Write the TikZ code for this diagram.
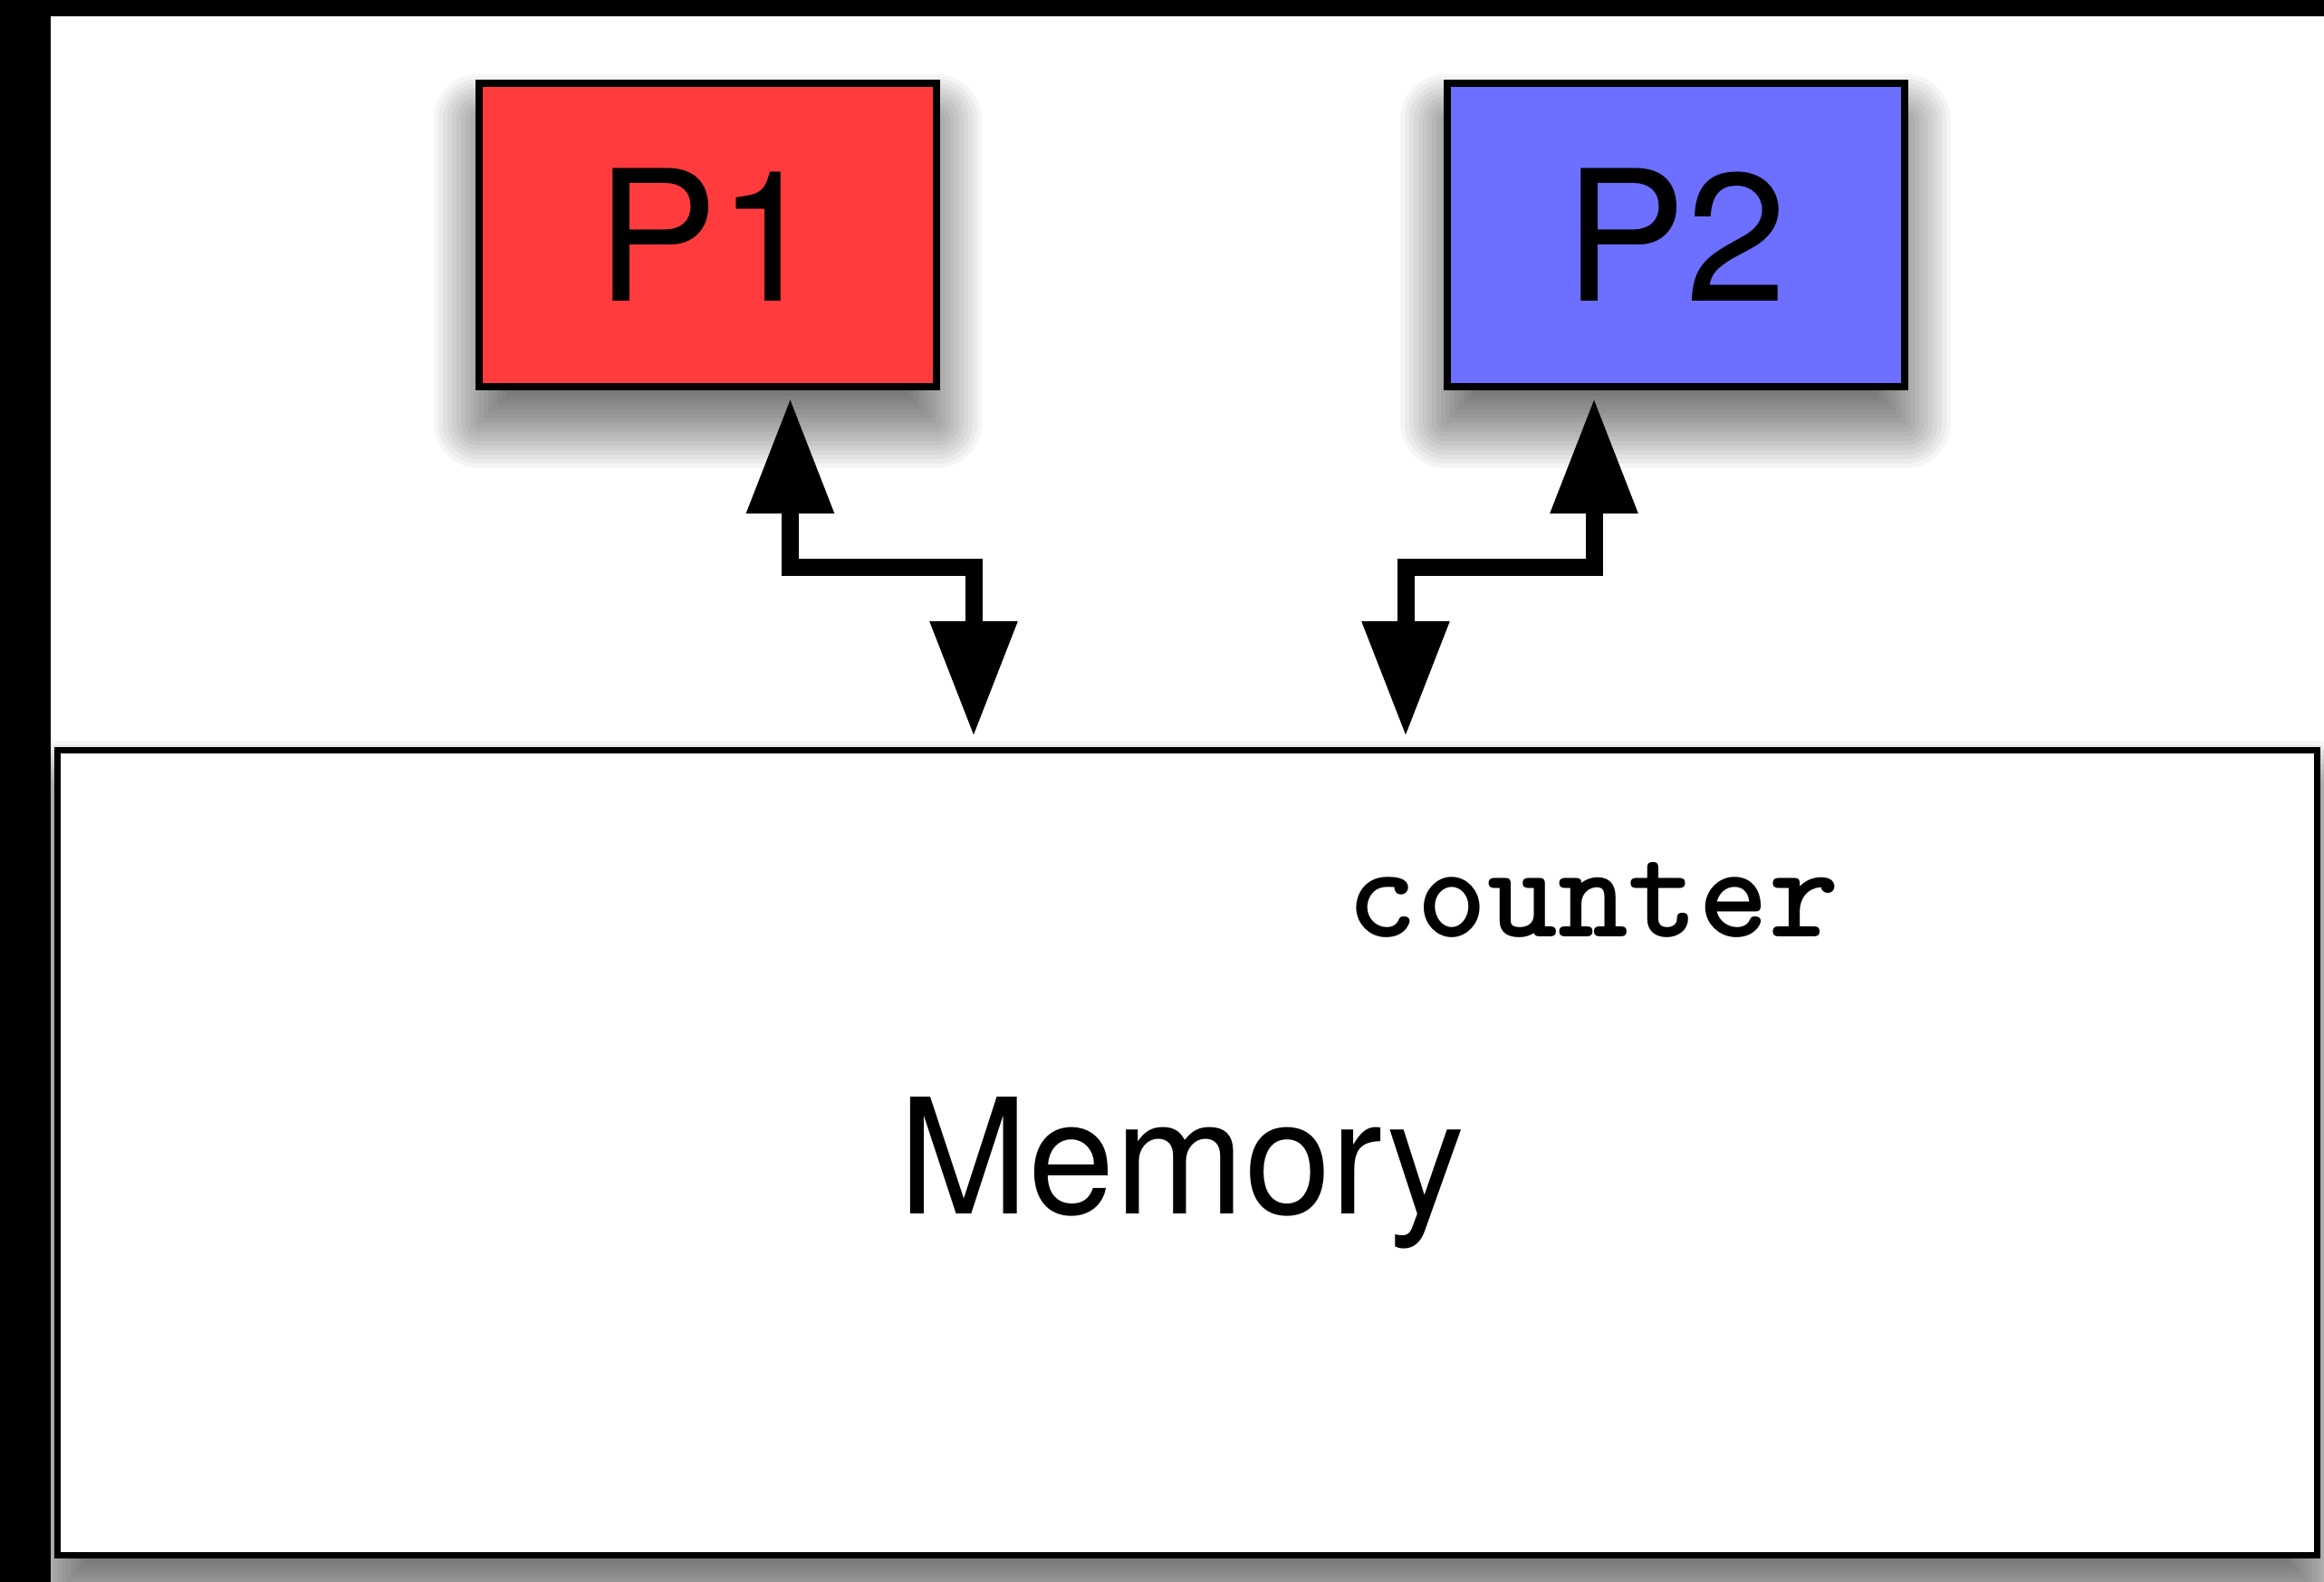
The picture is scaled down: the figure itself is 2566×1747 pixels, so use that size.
\documentclass[tikz,border=0pt]{standalone}
\usepackage{fontspec}
\setmainfont{TeX Gyre Heros}
\newfontfamily\memfont{TeX Gyre Heros}[FakeStretch=0.97]
\newfontfamily\cntfont{lmmonolt10-bold.otf}
\usetikzlibrary{arrows.meta,calc}
\definecolor{pred}{RGB}{255,59,61}
\definecolor{pblue}{RGB}{108,111,255}
\tikzset{
  pbox/.style={draw=black, line width=8pt, minimum width=505pt, minimum height=335pt,
    inner sep=0pt, outer sep=0pt, font=\fontsize{201}{201}\selectfont},
  membox/.style={draw=black, fill=white, line width=7pt, minimum width=2495pt,
    minimum height=889pt, inner sep=0pt, outer sep=0pt},
  conn/.style={line width=19pt, line join=miter,
    {Triangle[length=127pt,width=92pt]}-{Triangle[length=127pt,width=92pt]}},
  lbl/.style={inner sep=0pt, outer sep=0pt, anchor=base},
}
\newcommand\softshadow[5]{%
  \foreach \r in {-50,-45,...,50}{%
    \pgfmathsetmacro\rc{max(\r,1)}%
    \fill[black, opacity=0.04, rounded corners=\rc pt]
      ({#1-(\r)},{#2+#5-(\r)}) rectangle ({#3+(\r)},{#4+#5+(\r)});
  }}
\begin{document}
\begin{tikzpicture}[x=1pt,y=-1pt]
  \useasboundingbox (0,0) rectangle (2566,1747);
  \fill[white] (0,0) rectangle (2566,1747);
  % shadows
  \softshadow{529}{92}{1034}{427}{40}
  \softshadow{1596}{92}{2104}{427}{40}
  \softshadow{63}{828}{2558}{1717}{40}
  % boxes
  \node[pbox, fill=pred]  (P1) at (781.5,259.5) {P1};
  \node[pbox, fill=pblue] (P2) at (1850,259.5) {P2};
  \node[membox] (M) at (1310.5,1272.5) {};
  \node[lbl, font=\memfont\fontsize{177}{177}\selectfont] (memtxt) at (1305,1340) {Memory};
  \node[lbl, font=\cntfont\fontsize{148}{148}\selectfont] (cnt) at (1759,1034) {counter};
  % connector endpoints
  \coordinate (p1t) at ([xshift=91pt,yshift=-13pt]P1.south);
  \coordinate (p1b) at ([xshift=-235.5pt,yshift=15pt]M.north);
  \coordinate (p2t) at ([xshift=-90pt,yshift=-13pt]P2.south);
  \coordinate (p2b) at ([xshift=241.5pt,yshift=15pt]M.north);
  \draw[conn] (p1t) |- ($(p1t)!0.5!(p1b)$) -| (p1b);
  \draw[conn] (p2t) |- ($(p2t)!0.5!(p2b)$) -| (p2b);
  % black frame strips
  \fill[black] (0,0) rectangle (56,1747);
  \fill[black] (0,0) rectangle (2566,18);
\end{tikzpicture}
\end{document}
